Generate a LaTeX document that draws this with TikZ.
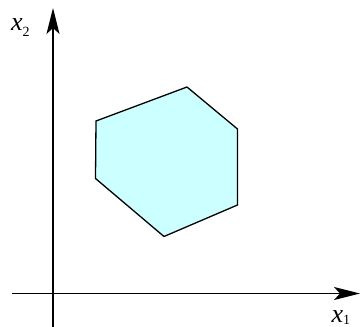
\documentclass[tikz,border=0pt]{standalone}
\usepackage{fontspec}
\setmainfont{Liberation Serif}
\usetikzlibrary{arrows.meta}
\definecolor{hexfill}{HTML}{CCFFFF}
\tikzset{
  axis/.style={line width=1.4pt,-{Stealth[length=26pt,width=13pt,inset=6pt]}},
  poly/.style={draw=black,line width=1.3pt,fill=hexfill,line join=miter},
  lbl/.style={inner sep=0pt,anchor=base west,font=\fontsize{26}{30}\selectfont}
}
\begin{document}
\begin{tikzpicture}[x=1pt,y=-1pt]
\useasboundingbox (0,0) rectangle (362,327);
\coordinate (ys) at (53,327);
\coordinate (ye) at (53,8);
\coordinate (xs) at (12,293.5);
\coordinate (xe) at (360,293.5);
\draw[axis] (ys) -- (ye);
\draw[axis] (xs) -- (xe);
\draw[poly] (96,121) -- (187,87) -- (237.5,129) -- (237.5,205) -- (164,236.5) -- (95.5,178.5) -- cycle;
\node[lbl] (l2) at (11,30.7) {\textit{x}\raisebox{-6pt}{\fontsize{14}{18}\selectfont 2}};
\node[lbl] (l1) at (331.5,322) {\textit{x}\raisebox{-2.5pt}{\fontsize{14}{18}\selectfont 1}};
\end{tikzpicture}
\end{document}
